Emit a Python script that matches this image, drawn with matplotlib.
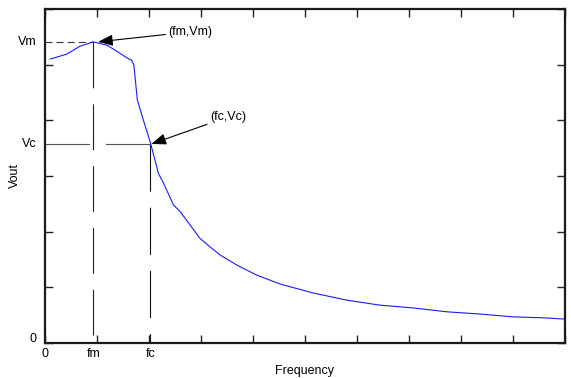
import matplotlib
matplotlib.use("Agg")
import matplotlib.pyplot as plt

plt.rcParams['font.family'] = ['Liberation Sans', 'DejaVu Sans']
plt.rcParams['lines.scale_dashes'] = False

# Data
freq = [0.1, 0.42, 0.67, 0.93, 1.19, 1.35, 1.58, 1.667, 1.71, 1.775, 1.89, 2.03,
        2.18, 2.28, 2.47, 2.60, 2.79, 2.98, 3.17, 3.37, 3.69, 4.07, 4.52, 5.15,
        5.8, 6.44, 7.08, 7.73, 8.37, 9.0, 9.65, 9.98]
vout = [5.10, 5.19, 5.33, 5.41, 5.35, 5.26, 5.12, 5.08, 4.99, 4.37, 4.01, 3.59,
        3.05, 2.87, 2.48, 2.36, 2.12, 1.88, 1.73, 1.58, 1.40, 1.22, 1.06, 0.90,
        0.77, 0.68, 0.63, 0.56, 0.52, 0.47, 0.45, 0.43]
fm, Vm = 0.93, 5.41
fc, Vc = 2.025, 3.575
x_tick_labels = ['0', 'fm', 'fc']
y_tick_labels = ['0', 'Vc', 'Vm']

fig = plt.figure(figsize=(5.71, 3.78), dpi=100)
ax = fig.add_axes([45/571, 35/378, 520/571, 334/378])
ax.set_xlim(0, 10)
ax.set_ylim(0, 6)

ax.plot(freq, vout, color='#1a1aff', lw=0.8, zorder=3)

# guide lines
ax.plot([0, fm], [Vm, Vm], color='#333333', lw=0.8, dashes=(5, 3))
ax.plot([fm, fm], [Vm, 0], color='#222222', lw=0.8, dashes=(33, 11.5))
ax.plot([0, fc], [Vc, Vc], color='#555555', lw=0.8, dashes=(32, 11.5))
ax.plot([fc, fc], [Vc, 0], color='#111111', lw=0.8, dashes=(34, 11.5))

# annotations
arrow = dict(arrowstyle='-|>,head_length=1.0,head_width=0.38', color='black',
             lw=0.8, shrinkA=0, shrinkB=0)
ax.annotate('(fm,Vm)', xy=(1.02, Vm), xytext=(2.37, 5.59), fontsize=9,
            ha='left', va='center', arrowprops=arrow)
ax.annotate('(fc,Vc)', xy=(fc + 0.02, Vc), xytext=(3.17, 4.06), fontsize=9,
            ha='left', va='center', arrowprops=arrow)

# ticks
ax.set_xticks(range(0, 11))
ax.set_yticks(range(0, 7))
ax.set_xticklabels([])
ax.set_yticklabels([])
ax.tick_params(direction='in', length=6, width=1, top=True, right=True,
               color='#222222')
for s in ax.spines.values():
    s.set_linewidth(1.6)
    s.set_color('#1a1a1a')

for xv, lab in zip([0, fm, fc], x_tick_labels):
    ax.text(xv, -0.2, lab, fontsize=9, ha='center', va='center')
for yv, lab in zip([0.08, Vc, Vm], y_tick_labels):
    ax.text(-0.17, yv, lab, fontsize=9, ha='right', va='center')

ax.set_xlabel('Frequency', fontsize=9, labelpad=12)
ax.set_ylabel('Vout', fontsize=9, labelpad=14)

fig.savefig('out.png', dpi=100)
